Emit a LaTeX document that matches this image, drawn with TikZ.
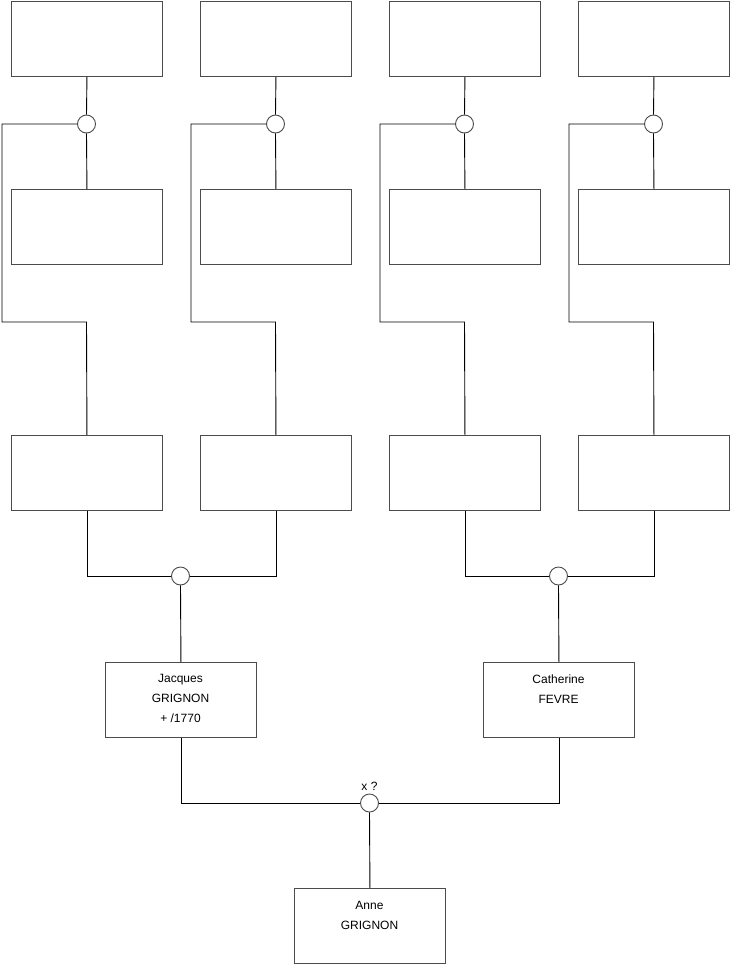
\documentclass[tikz,border=0pt]{standalone}
\usepackage{fontspec}
\setmainfont{Liberation Sans}
\begin{document}
\begin{tikzpicture}[x=1pt,y=-1pt,
  person/.style={draw=black!70,line width=0.9pt,fill=white,minimum width=151pt,minimum height=75pt,inner sep=0pt,anchor=north west},
  union/.style={circle,draw=black!70,line width=0.9pt,fill=white,minimum size=18pt,inner sep=0pt},
  link/.style={draw=black,line width=0.9pt},
  txt/.style={font=\fontsize{12}{20}\selectfont,align=center,anchor=north}]
\useasboundingbox (0,0) rectangle (740,975);
% ancestors
\foreach \n/\x/\lx in {a/11/2,b/200/191,c/389/380,d/578/569}{
  \node[person] (t\n) at (\x,1) {};
  \node[person] (m\n) at (\x,189) {};
  \node[person] (b\n) at (\x,435) {};
  \node[union] (u\n) at (\x+75.5,124) {};
  \coordinate (k1\n) at (\lx,124);
  \coordinate (k2\n) at (\lx,322);
  \coordinate (k3\n) at (\x+75.5,322);
  \draw[link] (t\n.south) -- (u\n.north);
  \draw[link] (u\n.south) -- (m\n.north);
  \draw[link] (u\n.west) -- (k1\n) -- (k2\n) -- (k3\n) -- (b\n.north);
}
% second generation unions
\node[union] (ul) at (180.5,576) {};
\node[union] (ur) at (558.5,576) {};
\draw[link] (ba.south) |- (ul.west);
\draw[link] (bb.south) |- (ul.east);
\draw[link] (bc.south) |- (ur.west);
\draw[link] (bd.south) |- (ur.east);
% parents
\node[person] (jacques) at (105,662) {};
\node[txt] at (180.5,671) {Jacques\\GRIGNON\\+ /1770};
\node[person] (catherine) at (483,662) {};
\node[txt] at (558.5,671) {Catherine\\FEVRE};
\draw[link] (ul.south) -- (jacques.north);
\draw[link] (ur.south) -- (catherine.north);
% final union
\node[union] (uf) at (369.5,803) {};
\node[txt,anchor=south] at (369.5,794) {x ?};
\draw[link] (jacques.south) |- (uf.west);
\draw[link] (catherine.south) |- (uf.east);
\node[person] (anne) at (294,888) {};
\node[txt] at (369.5,898) {Anne\\GRIGNON};
\draw[link] (uf.south) -- (anne.north);
\end{tikzpicture}
\end{document}
